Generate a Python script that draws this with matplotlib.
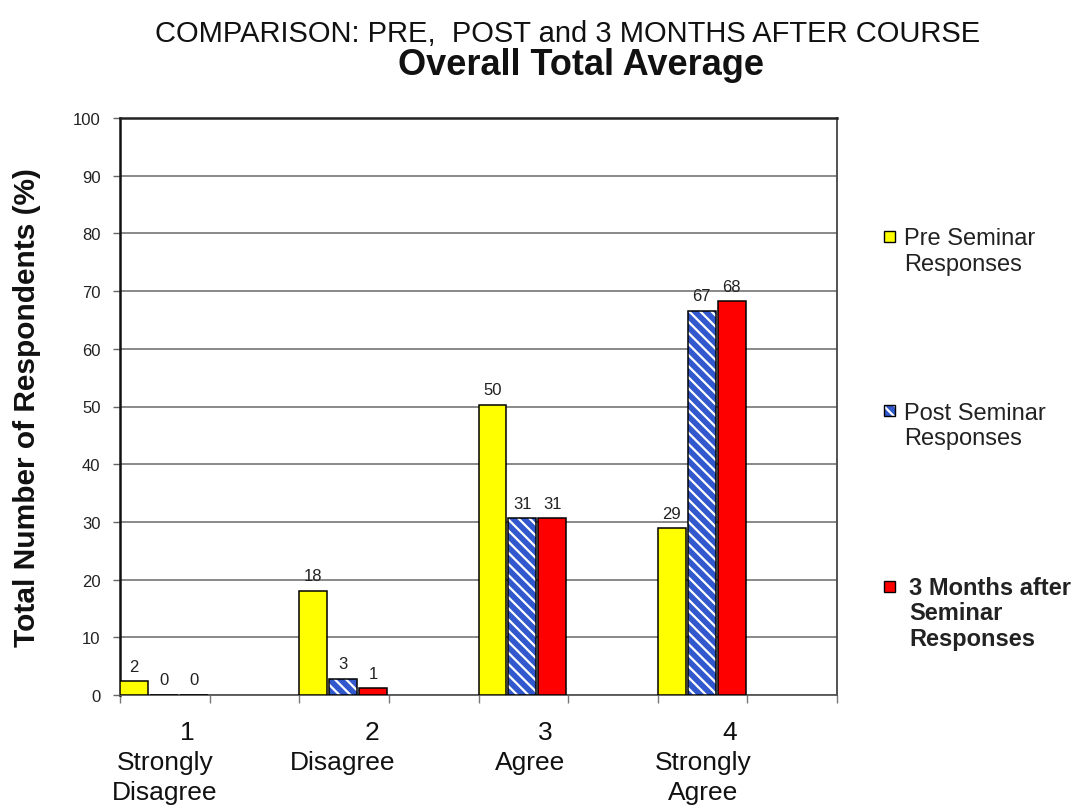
import matplotlib
matplotlib.use('Agg')
import matplotlib.pyplot as plt
import matplotlib.transforms as mtransforms
from matplotlib.patches import Rectangle

plt.rcParams['font.family'] = ['Liberation Sans', 'DejaVu Sans']
plt.rcParams['hatch.linewidth'] = 1.6

# ---------------- data ----------------
category_numbers = ['1', '2', '3', '4']
category_names = [['Strongly', 'Disagree'], ['Disagree'], ['Agree'], ['Strongly', 'Agree']]
series_names = [['Pre Seminar', 'Responses'],
                ['Post Seminar', 'Responses'],
                ['3 Months after', 'Seminar', 'Responses']]
pre_values = [2.4, 18.1, 50.3, 28.9]
post_values = [0.0, 2.8, 30.6, 66.6]
months3_values = [0.0, 1.2, 30.6, 68.2]
y_ticks = [0, 10, 20, 30, 40, 50, 60, 70, 80, 90, 100]
title_line1 = 'COMPARISON: PRE,  POST and 3 MONTHS AFTER COURSE'
title_line2 = 'Overall Total Average'
y_title = 'Total Number of Respondents (%)'

# ---------------- layout / style ----------------
W, H = 1076, 812
fig = plt.figure(figsize=(W / 100, H / 100), dpi=100)
fig.patch.set_facecolor('white')
ax = fig.add_axes([120 / W, 1 - 696 / H, (837 - 120) / W, (696 - 119) / H])

series = [pre_values, post_values, months3_values]
face_colors = ['#FFFF00', '#3158CC', '#FF0000']
hatches = [None, '\\\\\\', None]
bar_width = 0.156
bar_pitch = 0.167
number_pos = [0.374, 1.406, 2.371, 3.403]
name_pos = [0.251, 1.244, 2.287, 3.253]

for s, vals in enumerate(series):
    xs = [g + s * bar_pitch for g in range(len(vals))]
    if hatches[s]:
        ax.bar(xs, vals, width=bar_width, align='edge', color=face_colors[s],
               edgecolor='white', hatch=hatches[s], linewidth=0, zorder=3)
        ax.bar(xs, vals, width=bar_width, align='edge', fill=False,
               edgecolor='black', linewidth=1.1, zorder=4)
    else:
        ax.bar(xs, vals, width=bar_width, align='edge', color=face_colors[s],
               edgecolor='black', linewidth=1.1, zorder=3)
    for x, v in zip(xs, vals):
        ax.annotate(f'{v:.0f}', xy=(x + bar_width / 2, v), xytext=(0, 10.8),
                    textcoords='offset points', ha='center', va='center',
                    fontsize=12, color='#222222', zorder=5)

ax.set_xlim(0, 4)
ax.set_ylim(0, 100)
ax.set_yticks(y_ticks)
ax.set_yticklabels([str(t) for t in y_ticks], fontsize=12, color='#222222')
ax.set_xticks([i * 0.5 for i in range(9)])
ax.set_xticklabels([])
ax.tick_params(axis='y', direction='out', length=5, width=1, color='#666666', pad=9)
ax.tick_params(axis='x', direction='out', length=6, width=1, color='#777777')
ax.yaxis.grid(True, color='#808080', linewidth=1.3, zorder=0)
ax.set_axisbelow(True)
ax.spines['left'].set_linewidth(1.8)
ax.spines['left'].set_color('#111111')
ax.spines['top'].set_linewidth(1.8)
ax.spines['top'].set_color('#222222')
ax.spines['right'].set_linewidth(1.3)
ax.spines['right'].set_color('#444444')
ax.spines['bottom'].set_linewidth(1.3)
ax.spines['bottom'].set_color('#555555')

# category labels below axis
trans = mtransforms.blended_transform_factory(ax.transData, fig.transFigure)
for i, num in enumerate(category_numbers):
    ax.text(number_pos[i], 1 - 740 / H, num, transform=trans, ha='center',
            va='baseline', fontsize=19, color='#111111', clip_on=False)
    for j, line in enumerate(category_names[i]):
        ax.text(name_pos[i], 1 - (770 + 30 * j) / H, line, transform=trans,
                ha='center', va='baseline', fontsize=19, color='#111111', clip_on=False)

# titles
fig.text(568 / W, 1 - 42 / H, title_line1, ha='center', va='baseline',
         fontsize=21, color='#111111')
fig.text(581 / W, 1 - 75 / H, title_line2, ha='center', va='baseline',
         fontsize=26, fontweight='bold', color='#111111')
fig.text(27 / W, 1 - 408 / H, y_title, rotation=90, ha='center', va='center',
         fontsize=21.5, fontweight='bold', color='#111111')

# legend (manual)
entry_baselines = [245, 420, 595]
square_centers = [237, 411, 587]
text_x = [904, 904, 909]
weights = ['normal', 'normal', 'bold']
for k, lines in enumerate(series_names):
    sq = 11
    fig.patches.append(Rectangle((884 / W, 1 - (square_centers[k] + sq / 2) / H),
                                 sq / W, sq / H, transform=fig.transFigure,
                                 facecolor=face_colors[k],
                                 edgecolor='white' if hatches[k] else 'black',
                                 hatch=hatches[k], linewidth=0 if hatches[k] else 1.0))
    if hatches[k]:
        fig.patches.append(Rectangle((884 / W, 1 - (square_centers[k] + sq / 2) / H),
                                     sq / W, sq / H, transform=fig.transFigure,
                                     fill=False, edgecolor='black', linewidth=1.0))
    for j, line in enumerate(lines):
        fig.text(text_x[k] / W, 1 - (entry_baselines[k] + 25.5 * j) / H, line,
                 ha='left', va='baseline', fontsize=17, fontweight=weights[k],
                 color='#222222')

fig.savefig('out.png', dpi=100, facecolor='white')
